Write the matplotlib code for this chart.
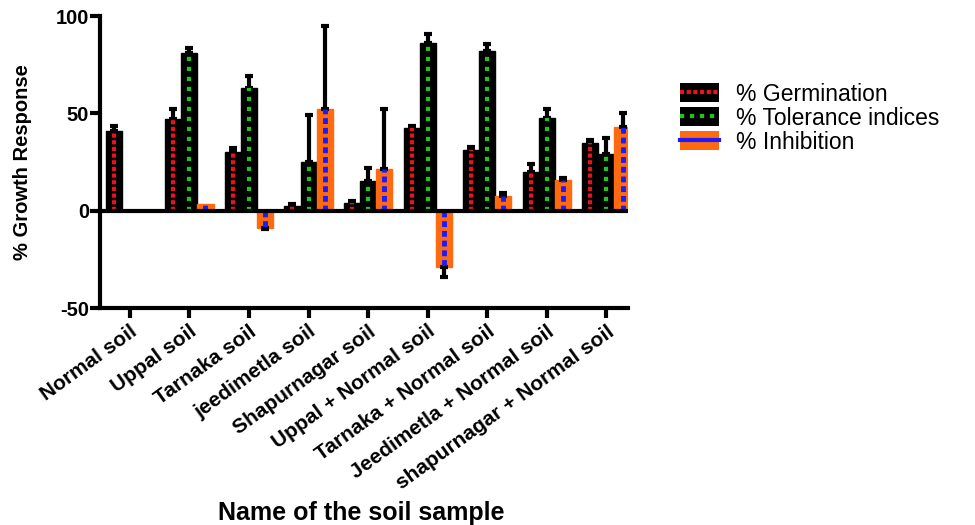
import matplotlib.pyplot as plt
import numpy as np
from matplotlib.patches import Patch
from matplotlib.lines import Line2D

plt.rcParams['font.family'] = ['Liberation Sans', 'DejaVu Sans']
plt.rcParams['axes.unicode_minus'] = False

# data
samples = ["Normal soil", "Uppal soil", "Tarnaka soil", "jeedimetla soil",
           "Shapurnagar soil", "Uppal + Normal soil", "Tarnaka + Normal soil",
           "Jeedimetla + Normal soil", "shapurnagar + Normal soil"]
germination = [41, 47, 30, 2.6, 4, 42.5, 31, 20, 35]
germ_err = [2.5, 5, 2, 1, 1, 1, 1.5, 4, 1.5]
tolerance = [0, 81, 63, 25, 15, 86, 82, 47.5, 29]
tol_err = [0, 2.5, 6, 24, 7, 5, 3.5, 4.5, 8.5]
inhibition = [0, 3.6, -9, 52, 21.5, -29, 7.3, 16, 43]
inh_err = [0, 0, 0.5, 43, 30.5, 5, 2, 1, 7]

x = np.arange(len(samples))
w = 0.27

fig = plt.figure(figsize=(9.75, 5.25), dpi=100)
ax = fig.add_axes([0.1026, 0.4133, 0.5414, 0.5562])

ekw = dict(ecolor='black', elinewidth=3, capsize=3, capthick=3)

def draw(pos, vals, errs, face, dash_color, dash, lw):
	vals = np.array(vals, dtype=float); errs = np.array(errs, dtype=float)
	keep = vals != 0
	pos, vals, errs = pos[keep], vals[keep], errs[keep]
	lo = np.where(vals < 0, errs, 0)
	hi = np.where(vals >= 0, errs, 0)
	ax.bar(pos, vals, w, color=face, edgecolor=face, zorder=2)
	has = errs > 0
	ax.errorbar(pos[has], vals[has], yerr=[lo[has], hi[has]], fmt='none', zorder=2.5, **ekw)
	ax.vlines(pos, 0, vals, colors=dash_color, linestyles=dash, lw=lw, zorder=3)

draw(x - w, germination, germ_err, 'black', '#e8141c', (0, (1, 0.6)), 3)
draw(x, tolerance, tol_err, 'black', '#22c41c', (0, (1, 1.4)), 3)
draw(x + w, inhibition, inh_err, '#ff6a10', '#1a1aff', (0, (1.2, 0.8)), 3.5)

ax.axhline(0, color='black', lw=3, zorder=4)

ax.set_xlim(-0.5, 8.36)
ax.set_ylim(-50, 100)
ax.set_yticks([-50, 0, 50, 100])
ax.set_xticks(x)
ax.set_xticklabels(samples, rotation=36, ha='right', rotation_mode='anchor',
	fontsize=15, fontweight='bold')
for t in ax.get_yticklabels():
	t.set_fontweight('bold')
	t.set_fontsize(14.5)
ax.tick_params(axis='both', width=3, length=7, direction='out')
ax.tick_params(axis='x', pad=3)
ax.tick_params(axis='y', pad=1)
for s in ['top', 'right']:
	ax.spines[s].set_visible(False)
for s in ['left', 'bottom']:
	ax.spines[s].set_linewidth(3)

ax.set_ylabel("% Growth Response", fontsize=14.5, fontweight='bold', labelpad=17)
fig.text(0.371, 0.023, "Name of the soil sample", fontsize=18, fontweight='bold',
	ha='center', va='center')

handles = [
	(Patch(facecolor='black'), Line2D([], [], color='#e8141c', ls=(0, (1, 0.6)), lw=3)),
	(Patch(facecolor='black'), Line2D([], [], color='#22c41c', ls=(0, (1, 1.4)), lw=3)),
	(Patch(facecolor='#ff6a10'), Line2D([], [], color='#1a1aff', lw=3)),
]
labels = ["% Germination", "% Tolerance indices", "% Inhibition"]
fig.legend(handles, labels, loc='upper left', bbox_to_anchor=(0.676, 0.882),
	frameon=False, fontsize=16.5, handlelength=1.7, handleheight=0.9,
	labelspacing=0.05, handletextpad=0.75)

fig.savefig("out.png", dpi=100)
